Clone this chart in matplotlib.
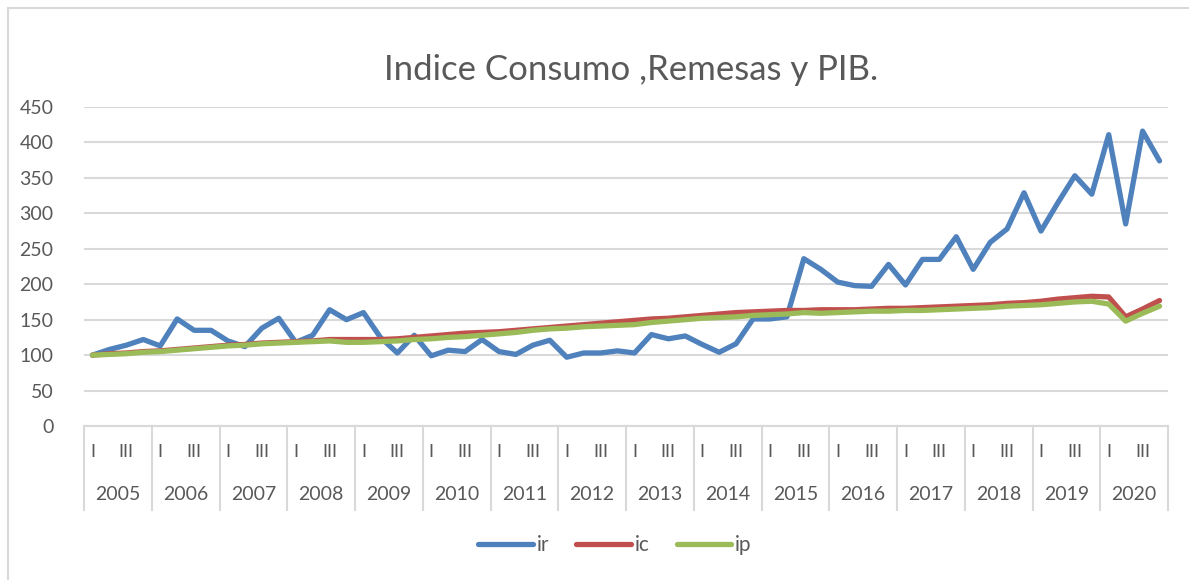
import numpy as np
import matplotlib.pyplot as plt
import matplotlib.transforms as mtransforms
from matplotlib.patches import Rectangle

# Datos trimestrales 2005-2020
years = list(range(2005, 2021))
quarters = ["I", "II", "III", "IV"]

ir = [100, 108, 114, 122,
      113, 151, 135, 135,
      120, 112, 138, 152,
      118, 128, 164, 150,
      160, 125, 103, 128,
      99, 107, 105, 122,
      105, 101, 114, 121,
      97, 103, 103, 106,
      103, 129, 123, 127,
      115, 104, 116, 151,
      151, 154, 236, 221,
      203, 198, 197, 228,
      199, 235, 235, 267,
      221, 259, 278, 329,
      275, 315, 353, 327,
      411, 285, 416, 374]

ic = [100, 102, 103, 105,
      106, 108, 110, 112,
      114, 115, 117, 118,
      119, 120, 122, 122,
      122, 122, 123, 125,
      127, 129, 131, 132,
      133, 135, 137, 139,
      141, 143, 145, 147,
      149, 151, 152, 154,
      156, 158, 160, 161,
      162, 163, 163, 164,
      164, 164, 165, 166,
      166, 167, 168, 169,
      170, 171, 173, 174,
      176, 179, 181, 183,
      182, 154, 165, 177]

ip = [100, 101, 102, 104,
      105, 107, 109, 111,
      113, 114, 116, 117,
      118, 119, 120, 118,
      118, 119, 120, 122,
      123, 125, 126, 128,
      130, 132, 135, 137,
      138, 140, 141, 142,
      143, 146, 148, 150,
      152, 153, 154, 156,
      157, 158, 160, 159,
      160, 161, 162, 162,
      163, 163, 164, 165,
      166, 167, 169, 170,
      171, 173, 175, 176,
      172, 148, 159, 169]

plt.rcParams['font.family'] = ['Lato', 'DejaVu Sans']
txt = '#595959'
grid_c = '#D9D9D9'

fig = plt.figure(figsize=(11.89, 5.80), dpi=100)
ax = fig.add_axes([84/1189, 1 - 426/580, (1168 - 84)/1189, (426 - 107)/580])

# borde del grafico
fig.patches.append(Rectangle((8/1189, -0.05), 1.1, 1 - 8/580 + 0.05,
                             transform=fig.transFigure, fill=False,
                             edgecolor=grid_c, linewidth=1.5))

x = np.arange(len(ir))
ax.plot(x, ir, color='#4F81BD', lw=3.8, solid_capstyle='round', label='ir')
ax.plot(x, ic, color='#C0504D', lw=3.8, solid_capstyle='round', label='ic')
ax.plot(x, ip, color='#9BBB59', lw=3.8, solid_capstyle='round', label='ip')

ax.set_xlim(-0.5, len(ir) - 0.5)
ax.set_ylim(0, 450)
ax.set_yticks(range(0, 451, 50))
ax.tick_params(axis='y', length=0, labelsize=14, labelcolor=txt, pad=22)
ax.grid(axis='y', color=grid_c, lw=1.5)
ax.set_axisbelow(True)
for s in ['top', 'right', 'left']:
    ax.spines[s].set_visible(False)
ax.spines['bottom'].set_color(grid_c)
ax.spines['bottom'].set_linewidth(1.5)

# eje de categorias en dos niveles
ax.set_xticks([])
trans = mtransforms.blended_transform_factory(ax.transData, ax.transAxes)
for k in range(len(years) + 1):
    ax.plot([k*4 - 0.5, k*4 - 0.5], [0, -84/319], transform=trans,
            color=grid_c, lw=1.5, clip_on=False)
for i in range(len(ir)):
    q = quarters[i % 4]
    if i % 2 == 0:
        ax.text(i, -26/319, q, transform=trans, ha='center', va='center',
                fontsize=13, color=txt)
for k, yr in enumerate(years):
    ax.text(k*4 + 1.5, -68/319, str(yr), transform=trans, ha='center',
            va='center', fontsize=14, color=txt)

fig.text(631/1189, 1 - 70/580, 'Indice Consumo ,Remesas y PIB.', ha='center',
         va='center', fontsize=25, color=txt)

fig.legend(loc='center', bbox_to_anchor=(615/1189, 1 - 545/580), ncol=3,
           frameon=False, fontsize=15, labelcolor=txt, handlelength=2.6,
           columnspacing=1.3, handletextpad=0.2)

fig.savefig('out.png', dpi=100)
